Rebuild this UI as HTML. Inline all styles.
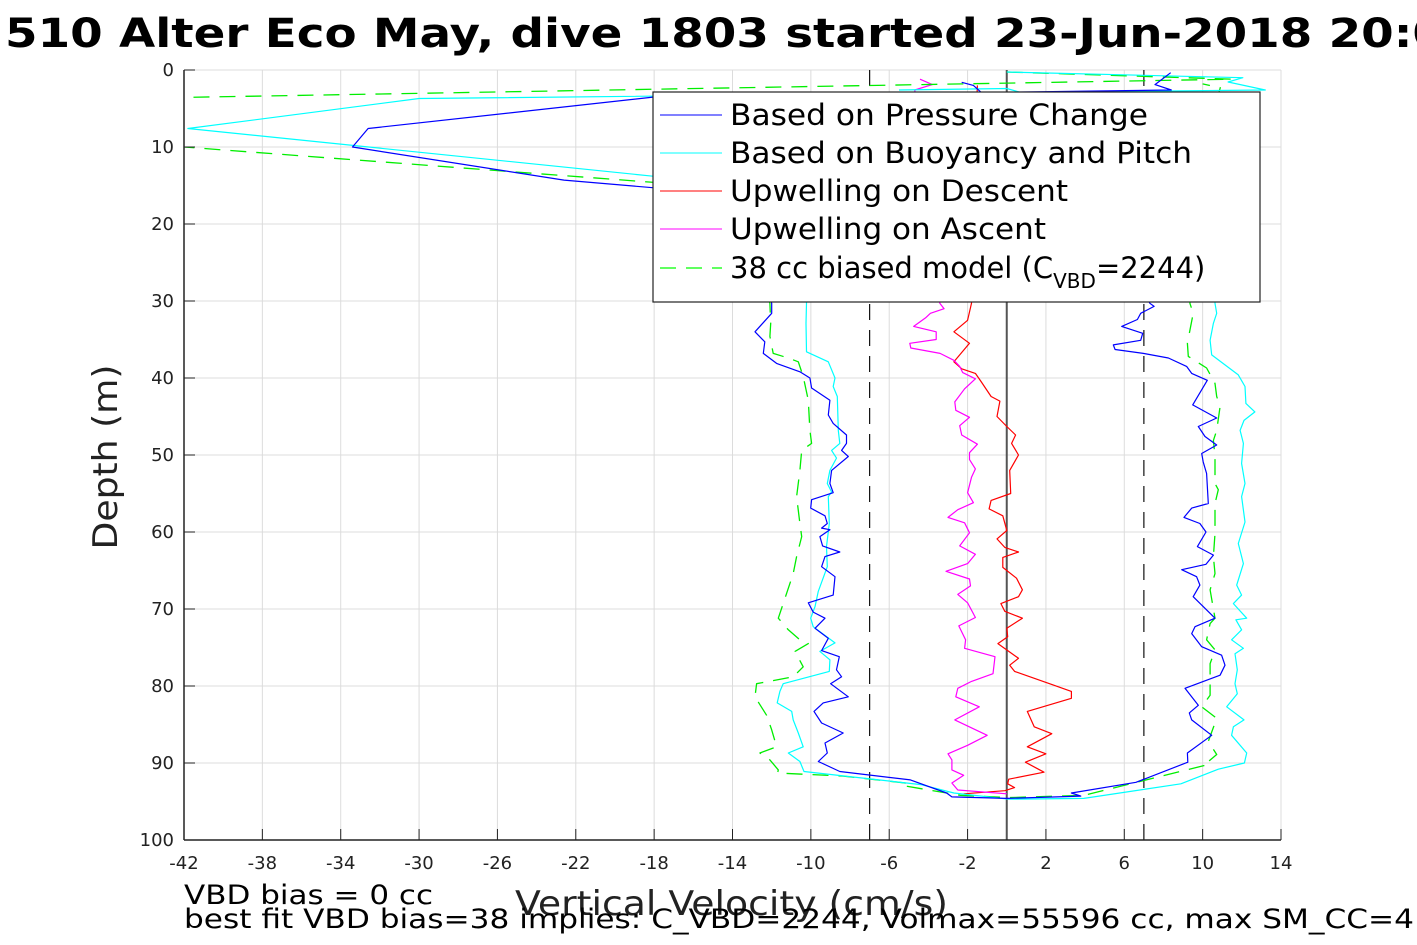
<!DOCTYPE html>
<html><head><meta charset="utf-8"><style>
html,body{margin:0;padding:0;background:#fff;overflow:hidden;}
svg{display:block;font-family:"DejaVu Sans","Liberation Sans",sans-serif;}
</style></head><body>
<svg id="chart" width="1417" height="945" viewBox="0 0 1417 945" xmlns="http://www.w3.org/2000/svg">
<defs><clipPath id="plotclip"><rect x="184" y="70" width="1097" height="770"/></clipPath></defs>
<text x="5" y="47" font-size="40" font-weight="bold" fill="#000" textLength="1440" lengthAdjust="spacingAndGlyphs">510 Alter Eco May, dive 1803 started 23-Jun-2018 20:0</text>
<g id="grid"></g>
<g id="refs"></g>
<g id="series" clip-path="url(#plotclip)"></g>
<g id="axes"></g>
<text transform="translate(117,457) rotate(-90)" text-anchor="middle" font-size="34" fill="#222" textLength="185" lengthAdjust="spacingAndGlyphs">Depth (m)</text>
<text x="515" y="915" font-size="34" fill="#222" textLength="433" lengthAdjust="spacingAndGlyphs">Vertical Velocity (cm/s)</text>
<text x="184" y="904" font-size="27" fill="#000" textLength="249" lengthAdjust="spacingAndGlyphs">VBD bias = 0 cc</text>
<text x="184" y="928" font-size="27" fill="#000" textLength="1230" lengthAdjust="spacingAndGlyphs">best fit VBD bias=38 implies: C_VBD=2244, Volmax=55596 cc, max SM_CC=4</text>
<g>
<rect x="653" y="92" width="607" height="210" fill="#fff" stroke="#222" stroke-width="1.2"/>
<line x1="660" y1="115" x2="722" y2="115" stroke="#0000ff" stroke-width="1"/>
<text x="730" y="125" font-size="29" textLength="418" lengthAdjust="spacingAndGlyphs">Based on Pressure Change</text>
<line x1="660" y1="153" x2="722" y2="153" stroke="#00ffff" stroke-width="1"/>
<text x="730" y="163" font-size="29" textLength="462" lengthAdjust="spacingAndGlyphs">Based on Buoyancy and Pitch</text>
<line x1="660" y1="191" x2="722" y2="191" stroke="#ff0000" stroke-width="1"/>
<text x="730" y="201" font-size="29" textLength="338" lengthAdjust="spacingAndGlyphs">Upwelling on Descent</text>
<line x1="660" y1="229" x2="722" y2="229" stroke="#ff00ff" stroke-width="1"/>
<text x="730" y="239" font-size="29" textLength="316" lengthAdjust="spacingAndGlyphs">Upwelling on Ascent</text>
<line x1="660" y1="268" x2="722" y2="268" stroke="#00ff00" stroke-width="1.2" stroke-dasharray="16,10"/>
<text x="730" y="278" font-size="29">38 cc biased model (C<tspan font-size="20" dy="10">VBD</tspan><tspan dy="-10">=2244)</tspan></text>
</g>
</svg>
<script>
const xTicks=[-42,-38,-34,-30,-26,-22,-18,-14,-10,-6,-2,2,6,10,14];
const yTicks=[0,10,20,30,40,50,60,70,80,90,100];
const pressureDepth=[0.35,1.9,2.6,3.5,7.6,10,14.3,15.3,25,30.3,31.6,34,35.3,36.8,38.1,39.2,40,41.3,42.9,44.8,45.9,47.4,48.5,49.4,50.2,52,53.7,54.9,55.8,56.9,57.9,58.9,59.5,59.7,60.6,61.8,62.6,63.2,64.5,65.8,68.2,69.2,70.4,71.2,72.5,73.8,75.4,76.2,77.9,78.8,79.7,81.4,82.2,83.3,84.8,86.1,87.4,88.7,89.8,91.1,92.2,93.9,94.4,94.6,94.3,93.9,92.5,89.9,88.7,86.4,84.4,83.5,82.5,80.3,78.6,77.3,76,74.9,73.2,72.3,71.2,68.4,66.9,65.8,64.9,64.2,63,61.9,60,58.9,58.1,56.9,56.3,52.4,50.9,49.8,48.7,47.6,46.3,45.2,43.5,40.3,39.4,38.5,37.4,36.8,36.3,35.7,35.1,34.2,33.3,32.4,31.6,30.7,30.3,15,2.0,1.6];
const pressureVel=[8.37,7.57,8.4,-18,-32.6,-33.4,-22.6,-18,-12.5,-12,-12,-12.85,-12.35,-12.43,-11.75,-10.56,-10.05,-9.96,-9.03,-9.11,-8.86,-8.18,-8.18,-8.43,-8.09,-8.94,-9.03,-8.86,-9.96,-10.01,-9.28,-9.16,-9.45,-9.03,-9.54,-9.4,-8.52,-9.28,-9.45,-8.77,-8.86,-10.13,-9.88,-9.28,-9.79,-9.11,-9.45,-8.55,-8.69,-8.43,-8.99,-8.09,-9.37,-9.84,-9.45,-8.35,-9.28,-9.16,-9.62,-8.52,-4.92,-3.07,-2.8,0,3.78,3.3,6.6,9.24,9.22,10.46,9.44,9.32,9.78,9.1,10.89,11.14,10.97,9.95,9.44,9.61,10.63,9.52,9.86,9.69,8.93,10.17,10.55,9.73,10.17,9.86,9.05,9.44,10.29,10.2,10.03,9.95,10.72,10.12,9.78,10.72,9.49,10.24,9.44,9.18,8.25,6.97,5.53,5.44,6.84,6.94,5.87,6.67,6.84,7.52,7.31,4,-1.7,-2.3];
const buoyDepth=[0.26,1.0,1.56,2.6,3.7,7.6,13.8,25,30.3,32.9,36.6,37.9,40,41.1,42.4,46.8,48.5,49.4,50.4,52,53.7,54.8,55.4,58.9,61.9,64.5,67.7,69.7,71.2,72.3,74.4,75.5,76.6,78.1,79.7,80.7,82.2,83.3,84.4,86.1,87.9,88.7,89.8,91.1,92.8,93.9,94.7,94.6,92.7,90.8,90,88.7,86.4,85.3,84.4,82.7,81,79.7,77.9,75.8,75.1,74,72.7,71.4,71.2,69.3,68.2,66.9,64.1,61.5,58.7,55.4,53.7,51.1,48.5,46.8,45.5,44.4,43.3,41.1,39.6,37,35.1,32.9,31.6,30.3,10,2.4,2.6];
const buoyVel=[0,12.05,11.3,13.2,-30,-41.8,-18,-10.3,-10.22,-10.25,-10.22,-9.11,-8.77,-8.86,-8.65,-8.6,-8.52,-8.94,-8.69,-9.03,-9.16,-8.94,-9.11,-9.06,-9.2,-9.16,-9.62,-9.79,-10.01,-9.88,-8.77,-9.54,-9.03,-9.06,-11.41,-11.58,-11.72,-10.98,-10.9,-10.64,-10.39,-11.15,-10.56,-10.35,-4.39,-2.7,0.1,3.94,8.89,10.8,12.13,12.25,11.48,11.57,12.11,11.23,11.77,11.65,11.77,11.65,12.08,11.48,11.99,11.7,12.25,11.57,11.99,11.74,12.08,11.82,12.16,11.99,12.16,11.99,12.08,11.91,12.11,12.67,12.21,12.16,11.82,10.46,10.38,10.55,10.72,10.63,10.5,0,-5.5];
const descentDepth=[2,20,30.3,32.5,34,35.5,37.9,38.8,39.4,40.5,42.4,43,45,46.3,47.4,48.5,50,52,55,55.9,57,57.9,59.8,60.9,62,62.6,63.3,64.6,66,67.5,68.4,69.3,70.3,71.2,72.5,73.6,74.5,76.4,77.3,78.1,79.9,80.7,81.6,83.3,85.3,86.2,87.9,88.8,89.9,91.2,92.1,92.7,93.2,93.6,94];
const descentVel=[-1.5,-1.8,-1.8,-2.0,-2.7,-1.9,-2.7,-2.3,-1.6,-1.3,-0.8,-0.35,-0.5,0,0.45,0.25,0.6,0.15,0.2,-0.8,-0.9,-0.2,0,-0.5,-0.1,0.6,-0.2,-0.2,0.5,0.8,0.6,-0.3,-0.1,0.8,0,0.05,-0.45,0.6,0.15,0.4,2.4,3.3,3.3,1.05,1.4,2.3,1.05,2.0,0.95,1.9,0.1,0.05,0.4,-0.1,-2.2];
const ascentDepth=[1.2,1.9,2.6,20,30.3,31,31.6,32.2,33.3,34,35,35.5,36.1,36.8,37.7,38.5,39.3,40.1,41.4,43.1,44.2,45.1,46.2,47.4,48.6,49.7,50.6,51.8,52.9,54.9,56.2,57.1,58.1,58.8,60.1,61.8,62.9,64.1,65.1,66.1,67,68.1,69.2,71.1,72.2,74,75.1,76.2,78.4,79.4,80.3,81.4,82.7,84.4,86.4,87.7,88.8,89.6,90.9,91.6,92.6,93.5,94];
const ascentVel=[-4.43,-3.8,-4.7,-3.5,-3.42,-3.2,-3.9,-4.15,-4.75,-3.6,-3.6,-4.95,-4.9,-3.4,-2.7,-2.4,-2.25,-1.6,-2.15,-2.65,-2.6,-1.9,-2.4,-2.3,-1.5,-1.9,-1.9,-1.6,-1.8,-2.0,-1.7,-2.5,-3.0,-2.15,-1.9,-2.4,-1.6,-2.0,-3.1,-1.9,-1.85,-2.5,-2.0,-1.6,-2.45,-2.1,-2.15,-0.6,-0.7,-1.8,-2.5,-2.6,-1.4,-2.65,-1.0,-2.0,-3.0,-2.8,-2.8,-2.2,-2.8,-2.5,0];
const modelDepth=[0.26,1.2,3.55,7,10,14.6,22,30.3,32.9,34.6,36.8,37.4,37.9,39.8,42.9,46.8,48.5,49.4,52,55.4,58.9,60.6,63.2,65.4,69.3,71.2,72.7,74,74.5,75.5,77.5,78.8,79.7,81.4,83.8,85.7,87.9,88.7,89.6,90.9,91.3,91.7,92.6,92.9,94.2,94.5,94.2,90.2,90,88.9,87.2,84.2,82.7,81.2,77.1,75.3,74,71.9,71.2,67.5,65.4,63.2,60.2,56.3,54.5,53.7,50.2,48.1,46.8,43.7,42.4,40.7,38.7,37.2,35.5,31.6,30.3,10,2.3,1.8];
const modelVel=[0,11.5,-41.7,-48,-42,-18,-13,-12.09,-12.05,-12.09,-11.92,-11.15,-10.64,-10.39,-10.13,-10.05,-9.96,-10.47,-10.56,-10.73,-10.56,-10.47,-10.73,-10.9,-11.41,-11.66,-11.15,-10.56,-10.13,-10.81,-10.39,-10.9,-12.77,-12.85,-12.26,-12.0,-11.75,-12.6,-12.09,-11.66,-11.7,-8.35,-5.18,-5.4,-2.37,0.1,3.94,10.3,10.2,10.72,10.29,10.72,9.95,10.38,10.38,10.63,10.2,10.38,10.63,10.38,10.63,10.55,10.63,10.63,10.8,10.63,10.63,10.55,10.72,10.89,10.72,10.63,10.2,9.27,9.22,9.52,9.35,10,10.9,10.0];

const NS='http://www.w3.org/2000/svg';
const X0=184,X1=1281,Y0=70,Y1=840,XMIN=-42,XMAX=14,YMIN=0,YMAX=100;
function sx(v){return X0+(v-XMIN)/(XMAX-XMIN)*(X1-X0);}
function sy(d){return Y0+(d-YMIN)/(YMAX-YMIN)*(Y1-Y0);}
function mk(tag,attrs,parent){const e=document.createElementNS(NS,tag);for(const k in attrs)e.setAttribute(k,attrs[k]);parent.appendChild(e);return e;}
const grid=document.getElementById('grid'),axes=document.getElementById('axes'),refs=document.getElementById('refs'),series=document.getElementById('series');
xTicks.forEach(t=>{
  const g=mk('line',{x1:sx(t),x2:sx(t),y1:Y0,y2:Y1,stroke:'#dcdcdc','stroke-width':1},grid);
  
  
  const tk=mk('line',{x1:sx(t),x2:sx(t),y1:Y1,y2:Y1-11,stroke:'#222','stroke-width':1},axes);
  
  
  const lb=mk('text',{x:sx(t),y:Y1+29,'text-anchor':'middle','font-size':18,fill:'#222'},axes);
  lb.textContent=t;
  
  
});
yTicks.forEach(t=>{
  const g=mk('line',{x1:X0,x2:X1,y1:sy(t),y2:sy(t),stroke:'#dcdcdc','stroke-width':1},grid);
  
  
  const tk=mk('line',{x1:X0,x2:X0+11,y1:sy(t),y2:sy(t),stroke:'#222','stroke-width':1},axes);
  
  
  const lb=mk('text',{x:X0-10,y:sy(t)+6,'text-anchor':'end','font-size':18,fill:'#222'},axes);
  lb.textContent=t;
  
  
});
const xa=mk('line',{x1:X0,x2:X1,y1:Y1,y2:Y1,stroke:'#222','stroke-width':1.5},axes);


const ya=mk('line',{x1:X0,x2:X0,y1:Y0,y2:Y1,stroke:'#222','stroke-width':1.5},axes);


const z=mk('line',{x1:sx(0),x2:sx(0),y1:Y0,y2:Y1,stroke:'#555','stroke-width':2},refs);


[-7,7].forEach(v=>{
  const d=mk('line',{x1:sx(v),x2:sx(v),y1:Y0,y2:Y1,stroke:'#111','stroke-width':1.2,'stroke-dasharray':'16,10'},refs);
  
  
});
function line(dep,vel,color,name,dash,w){
  const pts=dep.map((d,i)=>sx(vel[i]).toFixed(1)+','+sy(d).toFixed(1)).join(' ');
  const p=mk('polyline',{points:pts,fill:'none',stroke:color,'stroke-width':w||1.2,'stroke-linejoin':'round'},series);
  if(dash)p.setAttribute('stroke-dasharray',dash);
  
  
}
line(descentDepth,descentVel,'#ff0000','upwelling-descent-line');
line(ascentDepth,ascentVel,'#ff00ff','upwelling-ascent-line');
line(modelDepth,modelVel,'#00ee00','biased-model-line','16,10',1.3);
line(buoyDepth,buoyVel,'#00ffff','buoyancy-pitch-line');
line(pressureDepth,pressureVel,'#0000ff','pressure-change-line');
</script>
</body></html>
